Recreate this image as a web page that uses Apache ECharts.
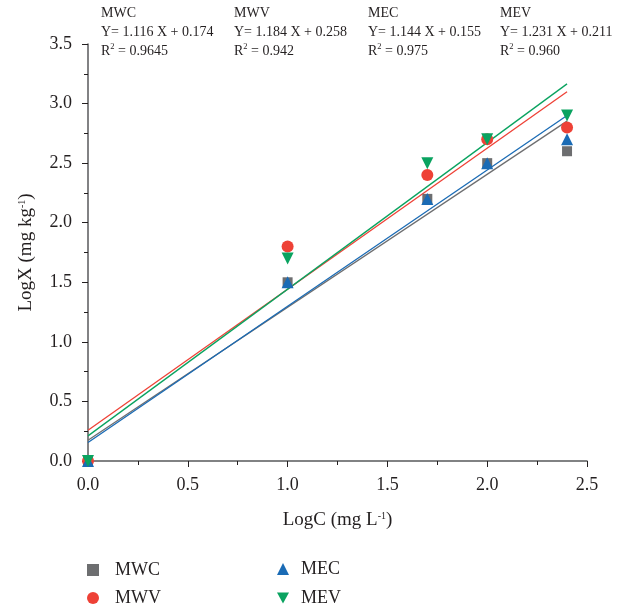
<!DOCTYPE html>
<html>
<head>
<meta charset="utf-8">
<script src="https://cdn.jsdelivr.net/npm/echarts@6/dist/echarts.min.js"></script>
<style>html,body{margin:0;padding:0;background:#fff}#c{width:633px;height:608px}</style>
</head>
<body>
<div id="c"></div>
<script>
var logC = [0, 1.0, 1.7, 2.0, 2.4];
var seriesNames = ['MWC', 'MWV', 'MEC', 'MEV'];
var mwc = [0, 1.5, 2.2, 2.5, 2.6];
var mwv = [0, 1.8, 2.4, 2.7, 2.8];
var mec = [0, 1.5, 2.2, 2.5, 2.7];
var mev = [0, 1.7, 2.5, 2.7, 2.9];
var slopes = [1.116, 1.184, 1.144, 1.231];
var intercepts = [0.174, 0.258, 0.155, 0.211];
var r2Labels = ['0.9645', '0.942', '0.975', '0.960'];
var fitRange = [0, 2.4];
var xTicks = ['0.0', '0.5', '1.0', '1.5', '2.0', '2.5'];
var yTicks = ['0.0', '0.5', '1.0', '1.5', '2.0', '2.5', '3.0', '3.5'];

var values = [mwc, mwv, mec, mev];
var colors = ['#6d6e70', '#ee4136', '#1a6bb5', '#0aa360'];
var downTri = 'path://M0,0L10,0L5,9Z';
var symbols = ['rect', 'circle', 'triangle', downTri];
var sizes = [10, 12, 12, 12];
var font = 'Liberation Serif, Times New Roman, serif';
var ink = '#231f20';

var series = [];
seriesNames.forEach(function (n, i) {
  series.push({
    name: n + ' fit', type: 'line', showSymbol: false, silent: true,
    data: fitRange.map(function (x) { return [x, slopes[i] * x + intercepts[i]]; }),
    lineStyle: { color: colors[i], width: 1.3 }, z: 1
  });
});
seriesNames.forEach(function (n, i) {
  series.push({
    name: n, type: 'scatter', symbol: symbols[i], symbolSize: sizes[i],
    data: logC.map(function (x, k) { return [x, values[i][k]]; }),
    itemStyle: { color: colors[i], opacity: 1 }, z: 5
  });
});

var annX = [101, 234, 368, 500];
var graphics = [];
seriesNames.forEach(function (n, i) {
  graphics.push({
    type: 'text', left: annX[i], top: 4,
    style: {
      text: n + '\nY= ' + slopes[i].toFixed(3) + ' X + ' + intercepts[i].toFixed(3) + '\n{r|R}{s|2}{r| = ' + r2Labels[i] + '}',
      font: '14px ' + font, fill: ink, lineHeight: 19,
      rich: {
        r: { fontSize: 14, fontFamily: font, color: ink, lineHeight: 19 },
        s: { fontSize: 8.5, fontFamily: font, color: ink, verticalAlign: 'top', lineHeight: 19, padding: [0, 0, 6, 0] }
      }
    }
  });
});

var legendPos = [[82, 555, 11], [82, 583, 11], [272, 554, 7], [272, 583, 7]];
var legends = seriesNames.map(function (n, i) {
  return {
    data: [{ name: n, icon: symbols[i] }], left: legendPos[i][0], top: legendPos[i][1],
    itemWidth: 12, itemHeight: 12, selectedMode: false,
    textStyle: { fontSize: 18, fontFamily: font, color: ink, lineHeight: 20, padding: [0, 0, 0, legendPos[i][2]] }
  };
});

var nameRich = {
  a: { fontSize: 19, fontFamily: font, color: ink },
  s: { fontSize: 10, fontFamily: font, color: ink, verticalAlign: 'top', padding: [0, 0, 9, 0] }
};

var chart = echarts.init(document.getElementById('c'));
chart.setOption({
  animation: false,
  backgroundColor: '#fff',
  grid: { left: 88, right: 46, top: 44, bottom: 147 },
  xAxis: {
    type: 'value', min: 0, max: 2.5, interval: 0.5,
    name: '{a|LogC (mg L}{s|-1}{a|)}', nameLocation: 'middle', nameGap: 50,
    nameTextStyle: { rich: nameRich },
    axisLine: { show: true, lineStyle: { color: '#58595b', width: 1.5 } },
    axisTick: { show: true, length: 6, lineStyle: { color: ink } },
    minorTick: { show: true, splitNumber: 2, length: 4, lineStyle: { color: ink } },
    splitLine: { show: false },
    axisLabel: { fontSize: 18, fontFamily: font, color: ink, margin: 15,
      formatter: function (v) { return xTicks[Math.round(v / 0.5)]; } }
  },
  yAxis: {
    type: 'value', min: 0, max: 3.5, interval: 0.5,
    name: '{a|LogX (mg kg}{s|-1}{a|)}', nameLocation: 'middle', nameGap: 52, nameRotate: 90,
    nameTextStyle: { rich: nameRich },
    axisLine: { show: true, lineStyle: { color: '#58595b', width: 1.5 } },
    axisTick: { show: true, length: 6, lineStyle: { color: ink } },
    minorTick: { show: true, splitNumber: 2, length: 4, lineStyle: { color: ink } },
    splitLine: { show: false },
    axisLabel: { fontSize: 18, fontFamily: font, color: ink, margin: 16,
      formatter: function (v) { return yTicks[Math.round(v / 0.5)]; } }
  },
  legend: legends,
  graphic: graphics,
  series: series
});
</script>
</body>
</html>
